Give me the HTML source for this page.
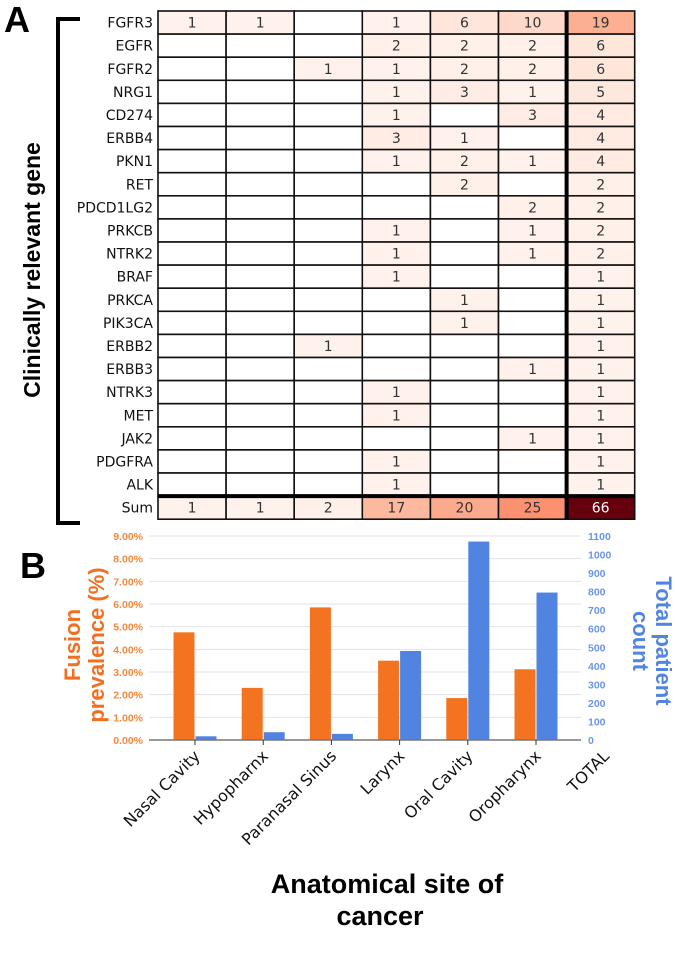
<!DOCTYPE html>
<html><head><meta charset="utf-8"><style>
html,body{margin:0;padding:0;background:#fff;}
svg{display:block;font-family:"DejaVu Sans","Liberation Sans",sans-serif;}
</style></head><body>
<svg id="fig" width="675" height="953" viewBox="0 0 675 953">
<text x="4" y="32" font-family="Liberation Sans" font-weight="bold" font-size="36">A</text>
<path d="M80,19 H58 V523 H80" fill="none" stroke="#000" stroke-width="4"/>
<text transform="translate(40,270) rotate(-90)" text-anchor="middle" font-family="Liberation Sans" font-weight="bold" font-size="23">Clinically relevant gene</text>
<g id="table"></g>
<text x="20" y="578" font-family="Liberation Sans" font-weight="bold" font-size="36">B</text>
<g id="chart"></g>
<text x="80" y="645" transform="rotate(-90,80,645)" text-anchor="middle" fill="#f26f21" font-family="Liberation Sans" font-weight="bold" font-size="22">Fusion</text>
<text x="104" y="645" transform="rotate(-90,104,645)" text-anchor="middle" fill="#f26f21" font-family="Liberation Sans" font-weight="bold" font-size="22">prevalence (%)</text>
<text x="656" y="641" transform="rotate(90,656,641)" text-anchor="middle" fill="#5185e0" font-family="Liberation Sans" font-weight="bold" font-size="22">Total patient</text>
<text x="633" y="641" transform="rotate(90,633,641)" text-anchor="middle" fill="#5185e0" font-family="Liberation Sans" font-weight="bold" font-size="22">count</text>
<text x="387" y="893" text-anchor="middle" font-family="Liberation Sans" font-weight="bold" font-size="27">Anatomical site of</text>
<text x="380" y="925" text-anchor="middle" font-family="Liberation Sans" font-weight="bold" font-size="27">cancer</text>
</svg>
<script>
const NS="http://www.w3.org/2000/svg";
const genes=["FGFR3","EGFR","FGFR2","NRG1","CD274","ERBB4","PKN1","RET","PDCD1LG2","PRKCB","NTRK2","BRAF","PRKCA","PIK3CA","ERBB2","ERBB3","NTRK3","MET","JAK2","PDGFRA","ALK","Sum"];
const counts=[
[1,1,0,1,6,10,19],[0,0,0,2,2,2,6],[0,0,1,1,2,2,6],[0,0,0,1,3,1,5],[0,0,0,1,0,3,4],
[0,0,0,3,1,0,4],[0,0,0,1,2,1,4],[0,0,0,0,2,0,2],[0,0,0,0,0,2,2],[0,0,0,1,0,1,2],
[0,0,0,1,0,1,2],[0,0,0,1,0,0,1],[0,0,0,0,1,0,1],[0,0,0,0,1,0,1],[0,0,1,0,0,0,1],
[0,0,0,0,0,1,1],[0,0,0,1,0,0,1],[0,0,0,1,0,0,1],[0,0,0,0,0,1,1],[0,0,0,1,0,0,1],
[0,0,0,1,0,0,1],[1,1,2,17,20,25,66]];
const sites=["Nasal Cavity","Hypopharnx","Paranasal Sinus","Larynx","Oral Cavity","Oropharynx","TOTAL"];
const prevalence=[4.75,2.3,5.85,3.5,1.85,3.12];
const patients=[20,42,33,480,1070,795];
const leftTicks=["0.00%","1.00%","2.00%","3.00%","4.00%","5.00%","6.00%","7.00%","8.00%","9.00%"];
const rightTicks=[0,100,200,300,400,500,600,700,800,900,1000,1100];

function mk(tag,attrs,parent){const e=document.createElementNS(NS,tag);for(const k in attrs)e.setAttribute(k,attrs[k]);parent.appendChild(e);return e;}
const stops=[[255,245,240],[254,224,210],[252,187,161],[252,146,114],[251,106,74],[239,59,44],[203,24,29],[165,15,21],[103,0,13]];
function reds(t){t=Math.max(0,Math.min(1,t))*8;const i=Math.min(7,Math.floor(t)),f=t-i;const a=stops[i],b=stops[i+1];
return "rgb("+a.map((v,k)=>Math.round(v+(b[k]-v)*f)).join(",")+")";}

// table
const T=document.getElementById('table');
const tx0=158,ty0=11,cw=68.1,rh=23.1,maxV=66;
genes.forEach((g,r)=>{
  const y=ty0+r*rh;
  const lab=mk('text',{x:tx0-5,y:y+rh/2+5,'text-anchor':'end','font-size':14,fill:'#111'},T);
  lab.textContent=g;
  
  
  counts[r].forEach((v,c)=>{
    const x=tx0+c*cw;
    const cell=mk('rect',{x:x,y:y,width:cw,height:rh,fill:v>0?reds(v/maxV):'#fff',stroke:'#111','stroke-width':1.6},T);
    
    
    if(v>0){
      const t=mk('text',{x:x+cw/2,y:y+rh/2+5,'text-anchor':'middle','font-size':14,fill:v/maxV>0.6?'#fff':'#333'},T);
      t.textContent=v;
      
      
    }
  });
});
mk('line',{x1:tx0,x2:tx0+7*cw,y1:ty0+21*rh,y2:ty0+21*rh,stroke:'#000','stroke-width':4},T);
mk('line',{x1:tx0+6*cw,x2:tx0+6*cw,y1:ty0,y2:ty0+22*rh,stroke:'#000','stroke-width':4},T);

// chart
const C=document.getElementById('chart');
const px0=149,px1=581,y0=740,yTop=536,groupW=68.2,firstC=195;
const yL=v=>y0-(v/9)*(y0-yTop);
const yR=v=>y0-(v/1100)*(y0-yTop);
const xc=i=>firstC+i*groupW;
leftTicks.forEach((t,i)=>{
  const y=yL(i);
  if(i>0){const gl=mk('line',{x1:px0,x2:px1,y1:y,y2:y,stroke:'#e3e3e3','stroke-width':1},C);
  }
  const tt=mk('text',{x:143,y:y+4,'text-anchor':'end','font-size':10.5,'font-weight':'bold',fill:'#f6883a','font-family':'Liberation Sans'},C);
  tt.textContent=t;
});
rightTicks.forEach(v=>{
  const tt=mk('text',{x:588,y:yR(v)+4,'font-size':10.5,'font-weight':'bold',fill:'#6a96e6','font-family':'Liberation Sans'},C);
  tt.textContent=v;
});
prevalence.forEach((v,i)=>{
  const b=mk('rect',{x:xc(i)-21.5,y:yL(v),width:21,height:y0-yL(v),fill:'#f47320'},C);
  
});
patients.forEach((v,i)=>{
  const b=mk('rect',{x:xc(i)+0.5,y:yR(v),width:21,height:y0-yR(v),fill:'#5184e0'},C);
  
});
mk('line',{x1:px0,x2:px1,y1:y0,y2:y0,stroke:'#777','stroke-width':1.5},C);
sites.forEach((s,i)=>{
  const x=xc(i);
  if(i<6) mk('line',{x1:x,x2:x,y1:y0,y2:y0+5,stroke:'#333','stroke-width':1},C);
  const t=mk('text',{x:x+6,y:757,'text-anchor':'end','font-size':16,fill:'#111',transform:'rotate(-45,'+(x+6)+',757)'},C);
  t.textContent=s;
});
</script>
</body></html>
